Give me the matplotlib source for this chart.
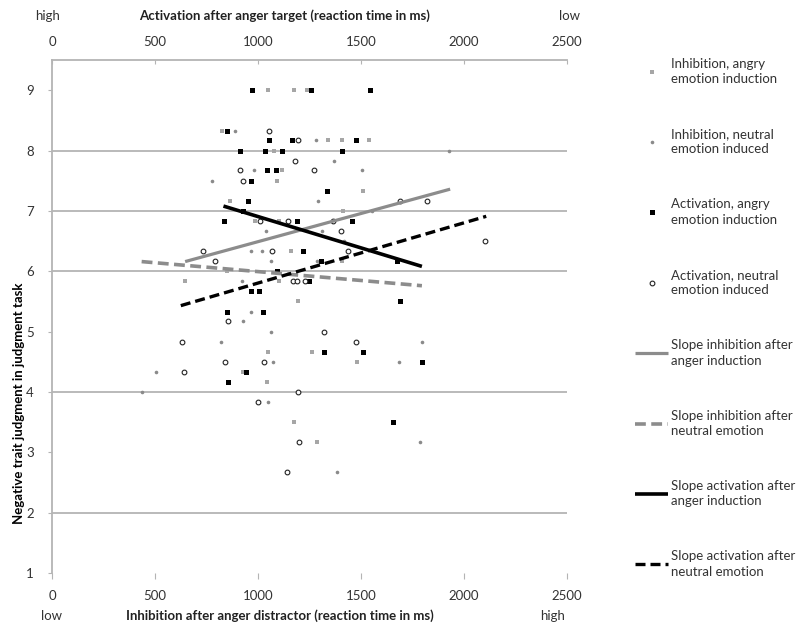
import numpy as np
import matplotlib.pyplot as plt
from matplotlib.lines import Line2D

plt.rcParams['font.family'] = ['Lato', 'DejaVu Sans']

# Inhibition, angry emotion induction (grey squares)
inh_angry_x = [1050, 1176, 1236, 824, 1338, 1406, 1536, 1078, 1115, 1094, 1511, 864, 1411, 985,
               1102, 1158, 1406, 646, 848, 1102, 1193, 1047, 1261, 1479, 926, 1045, 1176, 1285]
inh_angry_y = [9.0, 9.0, 9.0, 8.33, 8.17, 8.17, 8.17, 8.0, 7.67, 7.5, 7.33, 7.17, 7.0, 6.83,
               6.83, 6.33, 6.17, 5.83, 6.0, 5.83, 5.5, 4.67, 4.67, 4.5, 4.33, 4.17, 3.5, 3.17]

# Inhibition, neutral emotion induced (grey dots)
inh_neutral_x = [888, 1280, 1927, 1366, 982, 1506, 775, 1290, 1552, 1037, 1312, 1417, 964, 1017,
                 1063, 1288, 921, 966, 926, 1061, 819, 1795, 1070, 1684, 503, 438, 1050, 1786, 1383]
inh_neutral_y = [8.33, 8.17, 8.0, 7.83, 7.67, 7.67, 7.5, 7.17, 7.0, 6.67, 6.67, 6.5, 6.33, 6.33,
                 6.17, 6.17, 5.83, 5.33, 5.17, 5.0, 4.83, 4.83, 4.5, 4.5, 4.33, 4.0, 3.83, 3.17, 2.67]

# Activation, angry emotion induction (black squares)
act_angry_x = [969, 1256, 1544, 848, 1053, 1163, 1474, 913, 1034, 1115, 1406, 1042, 1086, 964,
               1333, 950, 929, 835, 1188, 1455, 1217, 1306, 1676, 1094, 1248, 964, 1005, 1690,
               848, 1026, 1322, 1508, 1795, 940, 856, 1657]
act_angry_y = [9.0, 9.0, 9.0, 8.33, 8.17, 8.17, 8.17, 8.0, 8.0, 8.0, 8.0, 7.67, 7.67, 7.5,
               7.33, 7.17, 7.0, 6.83, 6.83, 6.83, 6.33, 6.17, 6.17, 6.0, 5.83, 5.67, 5.67, 5.5,
               5.33, 5.33, 4.67, 4.67, 4.5, 4.33, 4.17, 3.5]

# Activation, neutral emotion induced (open circles)
act_neutral_x = [1055, 1193, 1180, 913, 1273, 929, 1689, 1822, 1010, 1147, 1362, 1403, 2102, 731,
                 1068, 1435, 791, 1168, 1188, 1228, 856, 1320, 630, 1476, 840, 1029, 641, 1193,
                 998, 1200, 1141]
act_neutral_y = [8.33, 8.17, 7.83, 7.67, 7.67, 7.5, 7.17, 7.17, 6.83, 6.83, 6.83, 6.67, 6.5, 6.33,
                 6.33, 6.33, 6.17, 5.83, 5.83, 5.83, 5.17, 5.0, 4.83, 4.83, 4.5, 4.5, 4.33, 4.0,
                 3.83, 3.17, 2.67]

# regression slopes (start / end)
slope_inh_angry = ([646, 1932], [6.16, 7.36])
slope_inh_neutral = ([435, 1795], [6.16, 5.76])
slope_act_angry = ([832, 1795], [7.08, 6.08])
slope_act_neutral = ([625, 2107], [5.43, 6.91])

x_ticks = [0, 500, 1000, 1500, 2000, 2500]
y_ticks = [1, 2, 3, 4, 5, 6, 7, 8, 9]
grid_levels = [2, 4, 6, 7, 8]

labels = ['Inhibition, angry\nemotion induction',
          'Inhibition, neutral\nemotion induced',
          'Activation, angry\nemotion induction',
          'Activation, neutral\nemotion induced',
          'Slope inhibition after\nanger induction',
          'Slope inhibition after\nneutral emotion',
          'Slope activation after\nanger induction',
          'Slope activation after\nneutral emotion']

grey_line = '#8c8c8c'
grid_col = '#b4b4b4'
txt_col = '#333333'

fig = plt.figure(figsize=(8, 6.33), dpi=100)
ax = fig.add_axes([0.065, 0.0948, 0.644, 0.8104])

for lv in grid_levels:
    ax.axhline(lv, color=grid_col, linewidth=1.3, zorder=0)

h1, = ax.plot(inh_angry_x, inh_angry_y, 's', color='#a6a6a6', markersize=3.0, markeredgewidth=0, zorder=3)
h2, = ax.plot(inh_neutral_x, inh_neutral_y, 'o', color='#8a8a8a', markersize=2.6, markeredgewidth=0, zorder=3)
h3, = ax.plot(act_angry_x, act_angry_y, 's', color='black', markersize=3.6, markeredgewidth=0, zorder=4)
h4, = ax.plot(act_neutral_x, act_neutral_y, 'o', markerfacecolor='white', markeredgecolor='#222222',
              markersize=3.4, markeredgewidth=0.8, zorder=4)

h5, = ax.plot(*slope_inh_angry, color=grey_line, linewidth=2.3, solid_capstyle='butt', zorder=5)
h6, = ax.plot(*slope_inh_neutral, color=grey_line, linewidth=2.6, linestyle=(0, (3, 1.5)), zorder=5)
h7, = ax.plot(*slope_act_angry, color='black', linewidth=2.6, solid_capstyle='butt', zorder=5)
h8, = ax.plot(*slope_act_neutral, color='black', linewidth=2.4, linestyle=(0, (3, 1.5)), zorder=5)

ax.set_xlim(0, 2500)
ax.set_ylim(1, 9.5)
ax.set_xticks(x_ticks)
ax.set_yticks(y_ticks)

for s in ['right', 'bottom']:
    ax.spines[s].set_visible(False)
ax.spines['left'].set_color(grid_col)
ax.spines['left'].set_linewidth(1.3)
ax.spines['top'].set_color(grid_col)
ax.spines['top'].set_linewidth(1.3)

ax.tick_params(axis='x', direction='out', length=4, color=grid_col, labelsize=9.5,
               labelcolor=txt_col, pad=8)
ax.tick_params(axis='y', direction='out', length=3, color=grid_col, labelsize=9.5,
               labelcolor=txt_col, pad=10)

top = ax.secondary_xaxis('top')
top.set_xticks(x_ticks)
top.spines['top'].set_visible(False)
top.tick_params(direction='in', length=3, color=grid_col, labelsize=9.5, labelcolor=txt_col, pad=9)

ax.set_ylabel('Negative trait judgment in judgment task', fontsize=9.5, fontweight='bold', labelpad=12)
ax.yaxis.set_label_coords(-0.052, 0.33)

fig.text(0.356, 0.975, 'Activation after anger target (reaction time in ms)', fontsize=9.5,
         fontweight='bold', ha='center', va='center', color='#222222')
fig.text(0.35, 0.027, 'Inhibition after anger distractor (reaction time in ms)', fontsize=9.5,
         fontweight='bold', ha='center', va='center', color='#222222')
fig.text(0.06, 0.975, 'high', fontsize=9.5, ha='center', va='center', color=txt_col)
fig.text(0.712, 0.975, 'low', fontsize=9.5, ha='center', va='center', color=txt_col)
fig.text(0.064, 0.027, 'low', fontsize=9.5, ha='center', va='center', color=txt_col)
fig.text(0.691, 0.027, 'high', fontsize=9.5, ha='center', va='center', color=txt_col)

leg = ax.legend([h1, h2, h3, h4, h5, h6, h7, h8], labels, loc='upper left',
                bbox_to_anchor=(0.794, 0.909), bbox_transform=fig.transFigure,
                frameon=False, fontsize=9.5, labelspacing=3.25, handlelength=2.5,
                handletextpad=0.25, borderpad=0, borderaxespad=0)
for t in leg.get_texts():
    t.set_color(txt_col)
    t.set_linespacing(1.35)

fig.savefig('out.png', dpi=100)
